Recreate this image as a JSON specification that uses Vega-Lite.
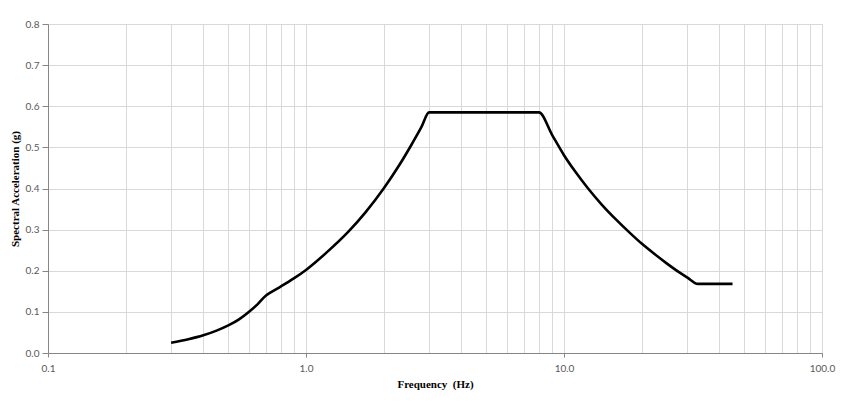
{
  "$schema": "https://vega.github.io/schema/vega-lite/v6.json",
  "width": 774,
  "height": 329,
  "autosize": {"type": "none"},
  "padding": {"left": 48, "top": 24, "right": 30, "bottom": 53},
  "background": "white",
  "config": {
    "view": {"stroke": null},
    "axis": {
      "labelFont": "Lato",
      "labelFontSize": 10,
      "labelColor": "#595959",
      "titleFont": "Liberation Serif",
      "titleFontWeight": "bold",
      "titleFontSize": 11,
      "titleColor": "#000000",
      "gridColor": "#d9d9d9",
      "gridWidth": 1,
      "domainColor": "#868686",
      "tickColor": "#868686"
    }
  },
  "data": {
    "values": [
      {"f": 0.3, "sa": 0.025},
      {"f": 0.35, "sa": 0.0334},
      {"f": 0.4, "sa": 0.043},
      {"f": 0.45, "sa": 0.0544},
      {"f": 0.5, "sa": 0.067},
      {"f": 0.55, "sa": 0.0818},
      {"f": 0.6, "sa": 0.0997},
      {"f": 0.65, "sa": 0.119},
      {"f": 0.7, "sa": 0.14},
      {"f": 0.724, "sa": 0.146},
      {"f": 0.8, "sa": 0.162},
      {"f": 0.9, "sa": 0.182},
      {"f": 1.0, "sa": 0.202},
      {"f": 1.2, "sa": 0.244},
      {"f": 1.46, "sa": 0.295},
      {"f": 1.7, "sa": 0.342},
      {"f": 2.0, "sa": 0.4},
      {"f": 2.3, "sa": 0.457},
      {"f": 2.55, "sa": 0.504},
      {"f": 2.8, "sa": 0.549},
      {"f": 3.0, "sa": 0.585},
      {"f": 8.0, "sa": 0.585},
      {"f": 9.0, "sa": 0.53},
      {"f": 10, "sa": 0.481},
      {"f": 11, "sa": 0.443},
      {"f": 12.4, "sa": 0.4},
      {"f": 14, "sa": 0.361},
      {"f": 16, "sa": 0.323},
      {"f": 18, "sa": 0.292},
      {"f": 20, "sa": 0.266},
      {"f": 22.5, "sa": 0.24},
      {"f": 25, "sa": 0.218},
      {"f": 28, "sa": 0.196},
      {"f": 30, "sa": 0.184},
      {"f": 33, "sa": 0.168},
      {"f": 45, "sa": 0.168}
    ]
  },
  "mark": {"type": "line", "color": "#000000", "strokeWidth": 2.6, "interpolate": "monotone"},
  "encoding": {
    "x": {
      "field": "f",
      "type": "quantitative",
      "scale": {"type": "log", "domain": [0.1, 100], "nice": false},
      "axis": {
        "title": "Frequency\u00a0 (Hz)",
        "titlePadding": 5,
        "values": [0.1,0.2,0.3,0.4,0.5,0.6,0.7,0.8,0.9,1,2,3,4,5,6,7,8,9,10,20,30,40,50,60,70,80,90,100],
        "labelExpr": "indexof([0.1,1,10,100], datum.value) >= 0 ? format(datum.value, '.1f') : ''",
        "tickOpacity": {"condition": {"test": "indexof([0.1,1,10,100], datum.value) >= 0", "value": 1}, "value": 0},
        "tickSize": 4,
        "labelPadding": 6,
        "labelFlush": false,
        "labelOverlap": false
      }
    },
    "y": {
      "field": "sa",
      "type": "quantitative",
      "scale": {"domain": [0, 0.8], "nice": false},
      "axis": {
        "title": "Spectral Acceleration (g)",
        "values": [0,0.1,0.2,0.3,0.4,0.5,0.6,0.7,0.8],
        "format": ".1f",
        "tickSize": 6,
        "labelPadding": 3,
        "titlePadding": 5
      }
    }
  }
}
